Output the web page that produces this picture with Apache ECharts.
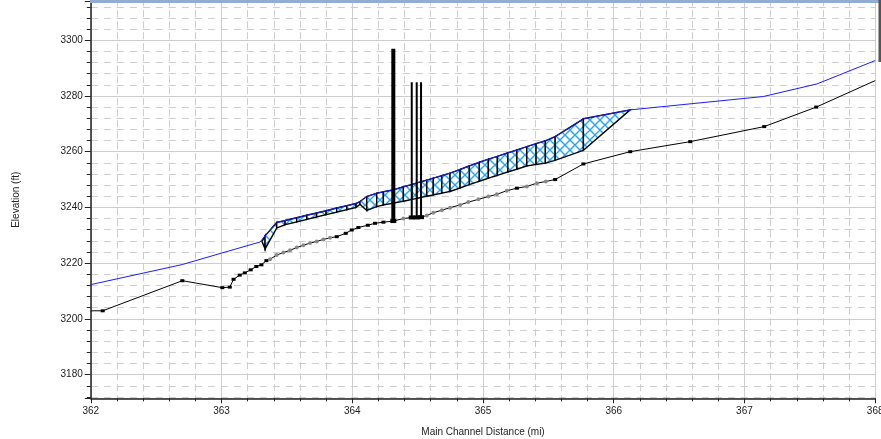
<!DOCTYPE html>
<html><head><meta charset="utf-8">
<script src="https://cdn.jsdelivr.net/npm/echarts@6/dist/echarts.min.js"></script>
<style>html,body{margin:0;padding:0;background:#fff}#c{width:881px;height:439px}</style>
</head><body><div id="c"></div>
<script>
// ---- Data ----
// Ground profile (channel invert): river mile, elevation, kind (b = section, B = section at structure, g = interpolated section, n = no marker)
const groundX = [362.000,362.091,362.700,363.006,363.063,363.092,363.139,363.178,363.223,363.266,363.305,363.343,
  363.371,363.422,363.473,363.524,363.575,363.626,363.677,363.728,363.779,363.830,
  363.881,363.950,363.996,364.047,364.119,364.174,364.238,364.314,
  364.391,364.455,364.493,364.526,364.570,364.620,364.685,364.748,364.825,364.888,364.965,365.041,365.106,365.182,
  365.259,365.335,365.412,365.480,365.552,365.768,366.126,366.585,367.151,367.549,368.000];
const groundY = [3202.9,3202.9,3213.7,3211.2,3211.4,3214.2,3215.7,3216.5,3217.6,3218.8,3219.4,3220.9,
  3221.4,3222.9,3223.8,3224.6,3225.6,3226.4,3227.2,3227.8,3228.5,3229.1,
  3229.5,3230.7,3231.9,3232.8,3233.6,3234.3,3234.7,3235.1,
  3236.0,3236.4,3236.4,3236.5,3237.1,3238.1,3239.0,3239.9,3240.9,3241.9,3242.9,3243.9,3244.7,3246.0,
  3246.9,3247.5,3248.7,3249.3,3250.0,3255.6,3260.0,3263.6,3269.0,3276.0,3285.5];
const groundKind = ['n','b','b','b','b','b','b','b','b','b','b','b',
  'g','g','g','g','g','g','g','g','g','g',
  'b','b','b','b','b','b','b','B',
  'g','B','B','B','g','g','g','g','g','g','g','g','g','g',
  'b','g','g','g','b','b','b','b','b','b','n'];

// Water surface outside the hatched reach
const wsLeftX = [362.000, 362.700, 363.000, 363.295];
const wsLeftY = [3212.3, 3219.5, 3223.6, 3227.6];
const wsRightX = [367.145, 367.554, 368.000];
const wsRightY = [3279.8, 3284.3, 3292.7];

// Hatched reach: section station, top elevation (water surface), bottom elevation
const hatchX = [363.310,363.333,363.422,363.486,363.575,363.652,363.728,363.800,363.881,363.958,364.029,
  364.059,364.111,364.187,364.238,364.314,364.391,364.455,364.493,364.526,364.570,364.620,364.685,364.748,
  364.825,364.896,364.972,365.041,365.110,365.190,365.259,365.335,365.406,365.477,365.552,365.768,366.126];
const hatchTop = [3227.8,3229.8,3234.6,3235.3,3236.3,3237.2,3238.0,3238.8,3239.8,3240.6,3241.4,
  3242.1,3243.9,3245.1,3245.6,3246.3,3247.4,3248.2,3248.8,3249.2,3249.8,3250.5,3251.4,3252.3,
  3253.6,3254.9,3256.2,3257.3,3258.3,3259.6,3260.6,3261.8,3262.9,3263.9,3265.4,3271.8,3275.0];
const hatchBot = [3227.6,3225.1,3232.6,3233.8,3234.8,3235.7,3236.6,3237.4,3238.3,3239.2,3240.0,
  3241.1,3238.9,3240.3,3240.9,3241.5,3242.2,3242.9,3243.2,3243.6,3244.0,3244.5,3245.1,3245.7,
  3247.0,3248.2,3249.4,3250.5,3251.5,3252.7,3253.7,3254.9,3255.4,3255.9,3256.9,3260.5,3275.0];

// Bridges / structures: station, bottom elevation, top elevation
const bridgeX = [364.314, 364.455, 364.493, 364.526];
const bridgeBottom = [3235.1, 3236.4, 3236.4, 3236.5];
const bridgeTop = [3296.9, 3284.9, 3284.9, 3284.9];

// ---- Build ----
const FONT = "'Liberation Sans', Arial, sans-serif";

const pc = document.createElement('canvas');
pc.width = 10; pc.height = 10;
(function(){
  const g = pc.getContext('2d');
  g.fillStyle = '#ffffff'; g.fillRect(0,0,10,10);
  g.strokeStyle = '#25a6f2'; g.lineWidth = 1.4;
  g.beginPath();
  g.moveTo(-1,-1); g.lineTo(11,11);
  g.moveTo(11,-1); g.lineTo(-1,11);
  g.stroke();
})();
const hatchPattern = {image: pc, repeat: 'repeat'};

const hatchData = [];
for (let i = 0; i < hatchX.length - 1; i++) {
  hatchData.push([hatchX[i], hatchTop[i], hatchBot[i], hatchX[i+1], hatchTop[i+1], hatchBot[i+1]]);
}

const wsData = [];
wsLeftX.forEach((x,i)=>wsData.push([x, wsLeftY[i]]));
hatchX.forEach((x,i)=>wsData.push([x, hatchTop[i]]));
wsRightX.forEach((x,i)=>wsData.push([x, wsRightY[i]]));

const groundData = groundX.map((x,i)=>{
  const k = groundKind[i];
  const item = {value:[x, groundY[i]]};
  if (k === 'n') { item.symbolSize = 0; }
  else if (k === 'g') { item.symbol = 'circle'; item.symbolSize = 4; item.itemStyle = {color:'#888'}; }
  else if (k === 'B') { item.symbol = 'rect'; item.symbolSize = [6,4]; item.itemStyle = {color:'#000'}; }
  else { item.symbol = 'rect'; item.symbolSize = [4,3]; item.itemStyle = {color:'#000'}; }
  return item;
});

const bridgeData = bridgeX.map((x,i)=>[x, bridgeBottom[i], bridgeTop[i]]);

const chart = echarts.init(document.getElementById('c'), null, {renderer:'canvas'});
const gridColor = '#cdcdcd';
chart.setOption({
  animation: false,
  backgroundColor: '#fff',
  textStyle: {fontFamily: FONT},
  grid: {left: 90.8, right: 5.8, top: 1.2, bottom: 40.7, containLabel: false, outerBoundsMode: 'none'},
  xAxis: {
    type: 'value', min: 362, max: 368, interval: 1,
    axisLine: {show: true, onZero: false, lineStyle: {color: '#222', width: 1.5}},
    axisTick: {show: true, length: 5, lineStyle: {color: '#222'}},
    minorTick: {show: true, splitNumber: 5, length: 3, lineStyle: {color: '#222'}},
    splitLine: {show: true, lineStyle: {color: gridColor, width: 1}},
    minorSplitLine: {show: true, lineStyle: {color: gridColor, width: 1, type: [7,4], dashOffset: 2}},
    axisLabel: {color: '#222', fontSize: 10, margin: 8, fontFamily: FONT},
    name: 'Main Channel Distance (mi)', nameLocation: 'middle', nameGap: 29,
    nameTextStyle: {color: '#222', fontSize: 10, fontFamily: FONT}
  },
  yAxis: {
    type: 'value', min: 3171.5, max: 3314, minInterval: 20, maxInterval: 20, splitNumber: 7,
    axisLine: {show: true, onZero: false, lineStyle: {color: '#222', width: 1.5}},
    axisTick: {show: true, length: 6, lineStyle: {color: '#222'}},
    minorTick: {show: true, splitNumber: 5, length: 4, lineStyle: {color: '#222'}},
    splitLine: {show: true, lineStyle: {color: gridColor, width: 1}},
    minorSplitLine: {show: true, lineStyle: {color: gridColor, width: 1, type: [7,6], dashOffset: 0}},
    axisLabel: {color: '#222', fontSize: 10, margin: 8, fontFamily: FONT, showMinLabel: false, showMaxLabel: false,
      formatter: v => (Math.abs(v % 20) < 1e-6 ? String(v) : '')},
    name: 'Elevation (ft)', nameLocation: 'middle', nameGap: 70, nameRotate: 90,
    nameTextStyle: {color: '#222', fontSize: 10, fontFamily: FONT}
  },
  series: [
    {
      type: 'custom', name: 'hatch', z: 3, clip: true,
      data: hatchData,
      encode: {x: [0,3], y: [1,2,4,5]},
      renderItem: (params, api) => {
        const pts = [
          api.coord([api.value(0), api.value(1)]),
          api.coord([api.value(3), api.value(4)]),
          api.coord([api.value(3), api.value(5)]),
          api.coord([api.value(0), api.value(2)])
        ];
        return {type: 'polygon', shape: {points: pts},
          style: {fill: hatchPattern, stroke: '#000', lineWidth: 1.4, lineJoin: 'miter'}};
      }
    },
    {
      type: 'line', name: 'Ground', z: 4, data: groundData,
      lineStyle: {color: '#000', width: 1}, itemStyle: {color: '#000'},
      showSymbol: true, symbol: 'rect', symbolSize: [4,3], clip: true
    },
    {
      type: 'line', name: 'WS', z: 5, data: wsData, symbol: 'none',
      lineStyle: {color: '#1c1cff', width: 1}, clip: true
    },
    {
      type: 'custom', name: 'Bridges', z: 6, clip: true,
      data: bridgeData,
      encode: {x: 0, y: [1,2]},
      renderItem: (params, api) => {
        const p0 = api.coord([api.value(0), api.value(1)]);
        const p1 = api.coord([api.value(0), api.value(2)]);
        return {type: 'line', shape: {x1: p0[0], y1: p0[1], x2: p1[0], y2: p1[1]},
          style: {stroke: '#000', lineWidth: params.dataIndex === 0 ? 4 : 2}};
      }
    }
  ],
  graphic: [
    {type: 'rect', shape: {x: 90, y: 0, width: 791, height: 3}, style: {fill: '#8eaed5'}, z: 100},
    {type: 'rect', shape: {x: 878.5, y: 0, width: 2.5, height: 62}, style: {fill: '#555'}, z: 100}
  ]
});
</script>
</body></html>
